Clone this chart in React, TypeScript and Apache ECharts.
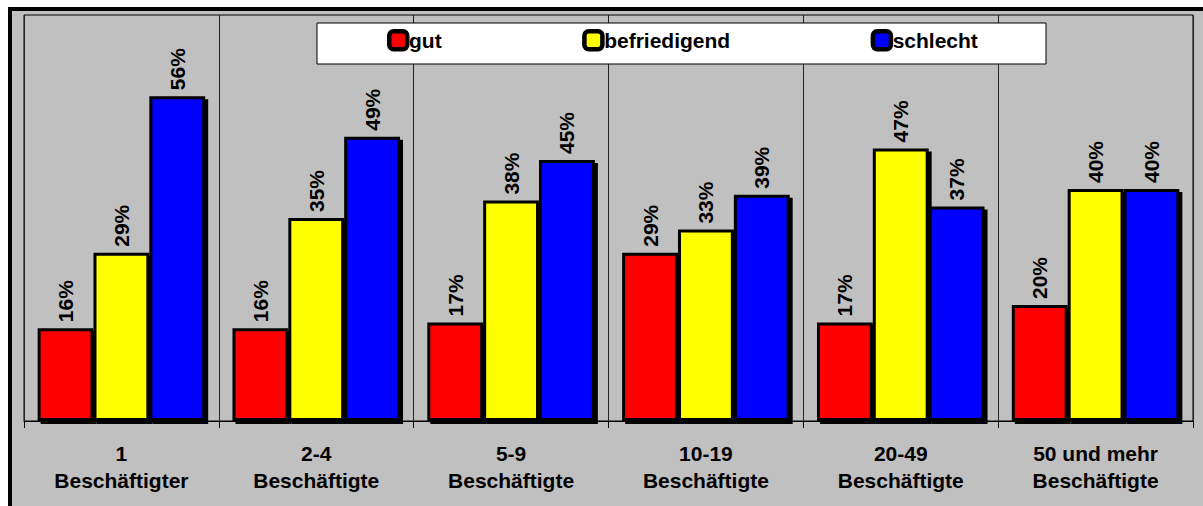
import React, { useEffect, useRef } from "react";
import * as echarts from "echarts";

const categories = [
  "1\nBeschäftigter",
  "2-4\nBeschäftigte",
  "5-9\nBeschäftigte",
  "10-19\nBeschäftigte",
  "20-49\nBeschäftigte",
  "50 und mehr\nBeschäftigte",
];
const seriesNames = ["gut", "befriedigend", "schlecht"];
const gut = [16, 16, 17, 29, 17, 20];
const befriedigend = [29, 35, 38, 33, 47, 40];
const schlecht = [56, 49, 45, 39, 37, 40];
const colors = ["#FF0000", "#FFFF00", "#0000FF"];

const FONT = "'Liberation Sans', Arial, sans-serif";

export default function App() {
  const ref = useRef<HTMLDivElement>(null);
  useEffect(() => {
    if (!ref.current) return;
    const chart = echarts.init(ref.current, undefined, { renderer: "svg" });
    const values = [gut, befriedigend, schlecht];
    const rich: Record<string, any> = {
      t: {
        fontFamily: FONT,
        fontWeight: "bold",
        fontSize: 21,
        color: "#000",
        lineHeight: 24,
        padding: [0, 0, 0, 4],
      },
    };
    colors.forEach((c, i) => {
      rich["m" + i] = {
        width: 13.5,
        height: 13.5,
        backgroundColor: c,
        borderColor: "#000",
        borderWidth: 4.5,
        borderRadius: 2,
      };
    });
    chart.setOption({
      animation: false,
      backgroundColor: "#FFFFFF",
      textStyle: { fontFamily: FONT },
      graphic: [
        {
          type: "rect",
          z: -10,
          shape: { x: 10, y: 9, width: 1200, height: 510 },
          style: { fill: "#C0C0C0", stroke: "#000", lineWidth: 4 },
        },
        {
          type: "rect",
          z: 3,
          shape: { x: 317, y: 23, width: 729, height: 41 },
          style: { fill: "#FFFFFF", stroke: "#000", lineWidth: 1 },
        },
      ],
      legend: {
        z: 4,
        left: 385.5,
        top: 29,
        padding: 0,
        itemGap: 139,
        itemWidth: 0,
        itemHeight: 0,
        icon: "rect",
        data: seriesNames,
        formatter: (name: string) => {
          const i = seriesNames.indexOf(name);
          return `{m${i}|}{t|${name}}`;
        },
        textStyle: { fontFamily: FONT, fontWeight: "bold", fontSize: 21, color: "#000", rich },
      },
      grid: {
        left: 24,
        right: 10,
        top: 15,
        bottom: 85,
        show: true,
        borderColor: "#000",
        borderWidth: 1,
        backgroundColor: "transparent",
      },
      xAxis: {
        type: "category",
        data: categories,
        axisLine: { lineStyle: { color: "#000", width: 1 } },
        axisTick: { show: true, length: 7, lineStyle: { color: "#000" } },
        splitLine: { show: true, lineStyle: { color: "#222", width: 1 } },
        axisLabel: {
          fontFamily: FONT,
          fontWeight: "bold",
          fontSize: 21,
          lineHeight: 27,
          color: "#000",
          margin: 19,
        },
      },
      yAxis: {
        type: "value",
        min: 0,
        max: 70,
        show: false,
        splitLine: { show: false },
      },
      series: seriesNames.map((name, i) => ({
        name,
        type: "bar",
        data: values[i],
        barGap: "0%",
        barCategoryGap: "14%",
        itemStyle: {
          color: colors[i],
          borderColor: "#000",
          borderWidth: 3,
          shadowColor: "#000",
          shadowOffsetX: 3,
          shadowOffsetY: 3,
          shadowBlur: 0,
        },
        label: {
          show: true,
          position: "top",
          rotate: 90,
          align: "left",
          verticalAlign: "middle",
          distance: 6,
          formatter: "{c}%",
          fontFamily: FONT,
          fontWeight: "bold",
          fontSize: 21,
          color: "#000",
        },
      })),
    });
    return () => chart.dispose();
  }, []);
  return (
    <div
      ref={ref}
      style={{ position: "absolute", left: 0, top: 0, width: 1203, height: 506 }}
    />
  );
}
